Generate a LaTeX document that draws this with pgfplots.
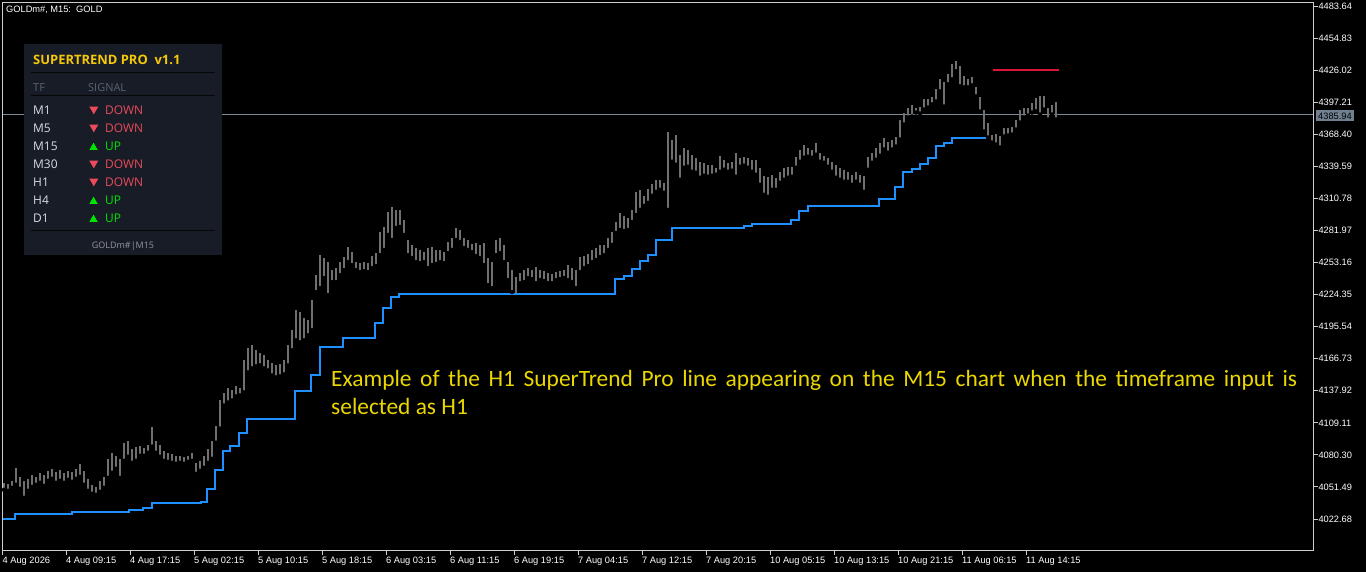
\documentclass[border=0pt]{standalone}
\usepackage{pgfplots}
\usepackage{pgfplotstable}
\pgfplotsset{compat=1.18}
\usepackage{fontspec}
\setmainfont{Liberation Sans}
\newfontfamily\calibri{Carlito}
\newfontfamily\osans{Open Sans}

\definecolor{framec}{RGB}{205,205,205}
\definecolor{barc}{RGB}{112,112,112}
\definecolor{stblue}{RGB}{30,144,255}
\definecolor{lvlred}{RGB}{220,20,60}
\definecolor{pricec}{RGB}{125,138,150}
\definecolor{tagc}{RGB}{112,128,144}
\definecolor{notec}{RGB}{235,215,0}
\definecolor{panelbg}{RGB}{24,28,38}
\definecolor{panelln}{RGB}{6,6,9}
\definecolor{titlec}{RGB}{245,200,10}
\definecolor{hdrc}{RGB}{90,98,115}
\definecolor{rowc}{RGB}{215,220,230}
\definecolor{downc}{RGB}{235,75,90}
\definecolor{upc}{RGB}{0,230,0}
\definecolor{footc}{RGB}{150,150,160}

% M15 bars: x (chart pixel), low, high
\pgfplotstableread{
x lo hi
4 4048.9 4055.2
8 4048.0 4054.3
12 4050.7 4057.0
16 4053.4 4068.7
20 4049.8 4060.6
24 4041.7 4057.0
28 4048.0 4058.8
32 4051.6 4062.4
36 4053.4 4060.6
40 4055.2 4064.2
44 4052.5 4062.4
48 4057.0 4066.0
52 4058.8 4067.8
56 4055.2 4065.1
60 4057.0 4066.9
64 4055.2 4064.2
68 4057.9 4066.0
72 4056.1 4065.1
76 4058.8 4067.8
80 4060.6 4072.3
84 4053.4 4066.0
88 4048.0 4058.8
92 4045.3 4053.4
96 4044.4 4051.6
100 4047.1 4057.0
104 4050.7 4060.6
108 4059.7 4076.8
112 4064.2 4082.2
116 4067.8 4079.5
120 4059.7 4076.8
124 4075.0 4091.3
128 4078.6 4093.1
132 4073.2 4085.9
136 4075.0 4087.7
140 4079.5 4088.6
144 4079.5 4086.8
148 4082.2 4089.5
152 4087.7 4105.7
156 4082.2 4093.1
160 4078.6 4089.5
164 4075.0 4084.1
168 4074.1 4082.2
172 4073.2 4081.3
176 4072.3 4079.5
180 4073.2 4079.5
184 4072.3 4078.6
188 4074.1 4079.5
192 4075.0 4082.2
196 4063.3 4073.2
200 4066.0 4075.0
204 4068.7 4079.5
208 4073.2 4085.9
212 4076.8 4093.1
216 4091.3 4106.6
220 4103.9 4129.2
224 4124.6 4135.5
228 4127.3 4140.0
232 4129.2 4138.2
236 4132.8 4141.8
240 4133.7 4140.0
244 4136.4 4165.2
248 4154.4 4176.1
252 4158.0 4178.8
256 4159.8 4174.3
260 4160.7 4171.5
264 4158.0 4169.7
268 4156.2 4165.2
272 4151.7 4162.5
276 4149.9 4160.7
280 4150.8 4161.6
284 4152.6 4165.2
288 4160.7 4178.8
292 4174.3 4192.3
296 4183.3 4210.3
300 4181.5 4208.5
304 4183.3 4203.1
308 4187.8 4201.3
312 4192.3 4219.4
316 4226.6 4241.9
320 4230.2 4259.9
324 4239.2 4257.2
328 4223.9 4253.6
332 4235.6 4246.4
336 4235.6 4248.2
340 4241.9 4253.6
344 4246.4 4258.1
348 4253.6 4267.2
352 4250.9 4262.6
356 4246.4 4253.6
360 4244.6 4252.7
364 4245.5 4253.6
368 4244.6 4252.7
372 4248.2 4259.0
376 4250.0 4261.7
380 4259.9 4280.7
384 4264.5 4285.2
388 4278.0 4298.7
392 4273.5 4303.2
396 4284.3 4300.5
400 4285.2 4300.5
404 4278.0 4291.5
408 4259.9 4273.5
412 4257.2 4269.0
416 4253.6 4266.3
420 4252.7 4264.5
424 4253.6 4262.6
428 4248.2 4266.3
432 4250.9 4267.2
436 4251.8 4264.5
440 4253.6 4264.5
444 4252.7 4262.6
448 4261.7 4271.7
452 4264.5 4275.3
456 4273.5 4284.3
460 4271.7 4282.5
464 4266.3 4275.3
468 4264.5 4273.5
472 4262.6 4269.9
476 4259.0 4270.8
480 4257.2 4269.0
484 4250.9 4270.8
488 4232.9 4257.2
492 4230.2 4253.6
496 4259.9 4273.5
500 4261.7 4275.3
504 4253.6 4269.0
508 4237.4 4253.6
512 4226.6 4246.4
516 4222.1 4240.1
520 4234.7 4243.7
524 4235.6 4246.4
528 4239.2 4248.2
532 4238.3 4246.4
536 4234.7 4249.1
540 4237.4 4246.4
544 4236.5 4245.5
548 4234.7 4243.7
552 4234.7 4242.8
556 4237.4 4244.6
560 4238.3 4245.5
564 4239.2 4246.4
568 4237.4 4250.9
572 4235.6 4248.2
576 4230.2 4246.4
580 4244.6 4258.1
584 4248.2 4259.0
588 4250.0 4260.8
592 4253.6 4264.5
596 4255.4 4266.3
600 4258.1 4269.0
604 4259.9 4269.0
608 4264.5 4275.3
612 4269.0 4280.7
616 4279.8 4289.7
620 4282.5 4297.8
624 4281.6 4295.1
628 4282.5 4293.3
632 4289.7 4300.5
636 4296.0 4316.8
640 4300.5 4318.6
644 4304.1 4313.2
648 4306.8 4319.5
652 4313.2 4324.0
656 4316.8 4327.6
660 4318.6 4327.6
664 4315.9 4324.9
668 4300.5 4370.9
672 4343.8 4363.7
676 4341.1 4368.2
680 4327.6 4350.1
684 4338.4 4356.5
688 4339.3 4354.7
692 4334.8 4350.1
696 4333.9 4347.4
700 4329.4 4343.8
704 4331.2 4342.9
708 4330.3 4341.1
712 4331.2 4341.1
716 4332.1 4338.4
720 4334.8 4349.2
724 4336.6 4345.6
728 4334.8 4342.9
732 4335.7 4343.8
736 4330.3 4351.9
740 4339.3 4347.4
744 4340.2 4348.3
748 4338.4 4347.4
752 4334.8 4345.6
756 4332.1 4345.6
760 4323.1 4338.4
764 4314.1 4331.2
768 4312.3 4330.3
772 4318.6 4332.1
776 4318.6 4329.4
780 4324.9 4334.8
784 4327.6 4338.4
788 4329.4 4339.3
792 4330.3 4339.3
796 4338.4 4348.3
800 4343.8 4354.7
804 4347.4 4359.2
808 4348.3 4356.5
812 4347.4 4354.7
816 4350.1 4361.0
820 4343.8 4351.9
824 4342.9 4349.2
828 4339.3 4347.4
832 4334.8 4343.8
836 4329.4 4341.1
840 4327.6 4338.4
844 4325.8 4336.6
848 4325.8 4334.8
852 4323.1 4332.1
856 4325.8 4334.8
860 4323.1 4332.1
864 4316.8 4331.2
868 4336.6 4348.3
872 4342.9 4351.9
876 4345.6 4356.5
880 4349.2 4361.0
884 4354.7 4365.5
888 4351.9 4361.9
892 4354.7 4363.7
896 4357.4 4366.4
900 4363.7 4381.7
904 4377.2 4388.0
908 4383.5 4392.5
912 4384.4 4395.2
916 4388.0 4392.5
920 4387.1 4393.4
924 4390.7 4399.8
928 4392.5 4399.8
932 4395.2 4401.6
936 4397.9 4408.8
940 4407.0 4417.8
944 4393.4 4415.1
948 4413.3 4422.3
952 4417.8 4431.3
956 4425.0 4434.0
960 4411.5 4429.5
964 4410.6 4420.5
968 4410.6 4417.8
972 4412.4 4419.6
976 4402.5 4410.6
980 4388.9 4401.6
984 4370.9 4390.7
988 4365.5 4379.0
992 4361.0 4368.2
996 4359.2 4369.1
1000 4356.5 4367.3
1004 4366.4 4374.5
1008 4367.3 4374.5
1012 4368.2 4375.4
1016 4372.7 4381.7
1020 4379.0 4390.7
1024 4383.5 4392.5
1028 4385.3 4392.5
1032 4388.0 4397.0
1036 4389.0 4400.7
1040 4386.2 4402.5
1044 4390.7 4402.5
1048 4381.7 4392.5
1052 4386.2 4395.2
1056 4381.7 4397.9
}\bars

% H1 SuperTrend steps: start x, level
\pgfplotstableread{
x st
2.5 4022.98
15 4027.22
72 4029.30
129 4030.56
143 4032.91
152 4037.15
201 4038.32
207 4049.51
215 4066.91
223 4084.05
230 4088.56
239 4100.29
247 4112.91
295 4137.93
311 4152.32
320 4176.96
343 4185.35
375 4198.87
383 4212.13
391 4222.06
399 4224.76
615 4238.29
624 4241.00
632 4247.31
640 4254.53
648 4260.21
656 4273.47
672 4284.57
744 4286.10
752 4288.18
791 4291.51
799 4299.63
808 4304.14
879 4310.72
895 4321.28
903 4334.81
912 4337.24
920 4342.02
928 4347.43
936 4357.62
944 4360.96
952 4365.47
990 4365.47
}\strend

\begin{document}
\begin{tikzpicture}
\path[use as bounding box] (0,0) rectangle (1366bp,572bp);
\fill[black] (0,0) rectangle (1366bp,572bp);

\begin{axis}[
  at={(2.5bp,21.3bp)}, anchor=south west,
  scale only axis, width=1310.8bp, height=548.2bp,
  xmin=2.5, xmax=1313.3, ymin=3994.19, ymax=4486.91,
  axis line style={draw=framec, line width=1bp},
  tick style={draw=framec, line width=1bp},
  tick align=outside, major tick length=4.5bp,
  xtick pos=bottom, ytick pos=right, yticklabel pos=right,
  xtick={2.5,66,130,194,258,322,386,450,514,578,642,706,770,834,898,962,1026},
  xticklabels={4 Aug 2026,4 Aug 09:15,4 Aug 17:15,5 Aug 02:15,5 Aug 10:15,5 Aug 18:15,6 Aug 03:15,6 Aug 11:15,6 Aug 19:15,7 Aug 04:15,7 Aug 12:15,7 Aug 20:15,10 Aug 05:15,10 Aug 13:15,10 Aug 21:15,11 Aug 06:15,11 Aug 14:15},
  ytick={4022.68,4051.49,4080.30,4109.11,4137.92,4166.73,4195.54,4224.35,4253.16,4281.97,4310.78,4339.59,4368.40,4397.21,4426.02,4454.83,4483.64},
  yticklabels={4022.68,4051.49,4080.30,4109.11,4137.92,4166.73,4195.54,4224.35,4253.16,4281.97,4310.78,4339.59,4368.40,4397.21,4426.02,4454.83,4483.64},
  xticklabel style={anchor=north west, inner sep=0pt, text=white, font=\fontsize{9.3}{10}\selectfont, yshift=-1.5bp},
  yticklabel style={anchor=west, inner sep=0pt, text=white, font=\fontsize{9.3}{10}\selectfont, xshift=0.5bp},
  clip=true,
]
\addplot[pricec, line width=1bp] coordinates {(2.5,4385.94) (1313.3,4385.94)};
\addplot[only marks, mark=none,
  error bars/.cd, y dir=plus, y explicit, error mark=none,
  error bar style={draw=barc, line width=1.8bp}]
  table[x=x, y=lo, y error expr=\thisrow{hi}-\thisrow{lo}] {\bars};
\addplot[stblue, line width=2bp, const plot] table[x=x, y=st] {\strend};
\addplot[lvlred, line width=2bp] coordinates {(993,4426.5) (1058.5,4426.5)};
\end{axis}

\begin{scope}[x=1bp, y=-1bp, yshift=572bp]
  % symbol caption
  \node[anchor=base west, inner sep=0pt, text=white, font=\fontsize{9.3}{10}\selectfont] at (6,12.5) {GOLDm\#, M15:\ \ GOLD};
  % current price tag
  \fill[tagc] (1316,110.5) rectangle (1353.5,121);
  \node[anchor=base west, inner sep=0pt, text=black, font=\fontsize{9.3}{10}\selectfont] at (1318,119.5) {4385.94};
  % note
  \node[anchor=base west, inner sep=0pt, text=notec, font=\calibri\fontsize{23.5}{28}\selectfont] at (331,387) {\spaceskip=8.6bp Example of the H1 SuperTrend Pro line appearing on the M15 chart when the timeframe input is};
  \node[anchor=base west, inner sep=0pt, text=notec, font=\calibri\fontsize{23.5}{28}\selectfont] at (331,415) {selected as H1};
  % panel
  \fill[panelbg] (24,44) rectangle (222,255);
  \node[anchor=base west, inner sep=0pt, text=titlec, font=\osans\bfseries\fontsize{13}{15}\selectfont] at (33,65) {SUPERTREND PRO\ \ v1.1};
  \draw[panelln, line width=1bp] (31,73) -- (215,73);
  \node[anchor=base west, inner sep=0pt, text=hdrc, font=\osans\fontsize{11}{13}\selectfont] at (33,92) {TF};
  \node[anchor=base west, inner sep=0pt, text=hdrc, font=\osans\fontsize{11}{13}\selectfont] at (88,92) {SIGNAL};
  \draw[panelln, line width=1bp] (31,95.5) -- (215,95.5);
  \foreach \tf/\b in {M1/115, M5/133, M30/169, H1/187} {
    \node[anchor=base west, inner sep=0pt, text=rowc, font=\osans\fontsize{12}{13}\selectfont] at (33,\b) {\tf};
    \fill[downc] (89.3,\b-8.3) -- (98.3,\b-8.3) -- (93.8,\b-0.7) -- cycle;
    \node[anchor=base west, inner sep=0pt, text=downc, font=\osans\fontsize{12}{13}\selectfont] at (105,\b) {DOWN};
  }
  \foreach \tf/\b in {M15/151, H4/205, D1/223} {
    \node[anchor=base west, inner sep=0pt, text=rowc, font=\osans\fontsize{12}{13}\selectfont] at (33,\b) {\tf};
    \fill[upc] (89.3,\b-1) -- (97.8,\b-1) -- (93.55,\b-8.3) -- cycle;
    \node[anchor=base west, inner sep=0pt, text=upc, font=\osans\fontsize{12}{13}\selectfont] at (105,\b) {UP};
  }
  \draw[panelln, line width=1bp] (31,231) -- (215,231);
  \node[anchor=base, inner sep=0pt, text=footc, font=\osans\fontsize{9}{11}\selectfont] at (123,248.3) {GOLDm\#|M15};
\end{scope}
\end{tikzpicture}
\end{document}
